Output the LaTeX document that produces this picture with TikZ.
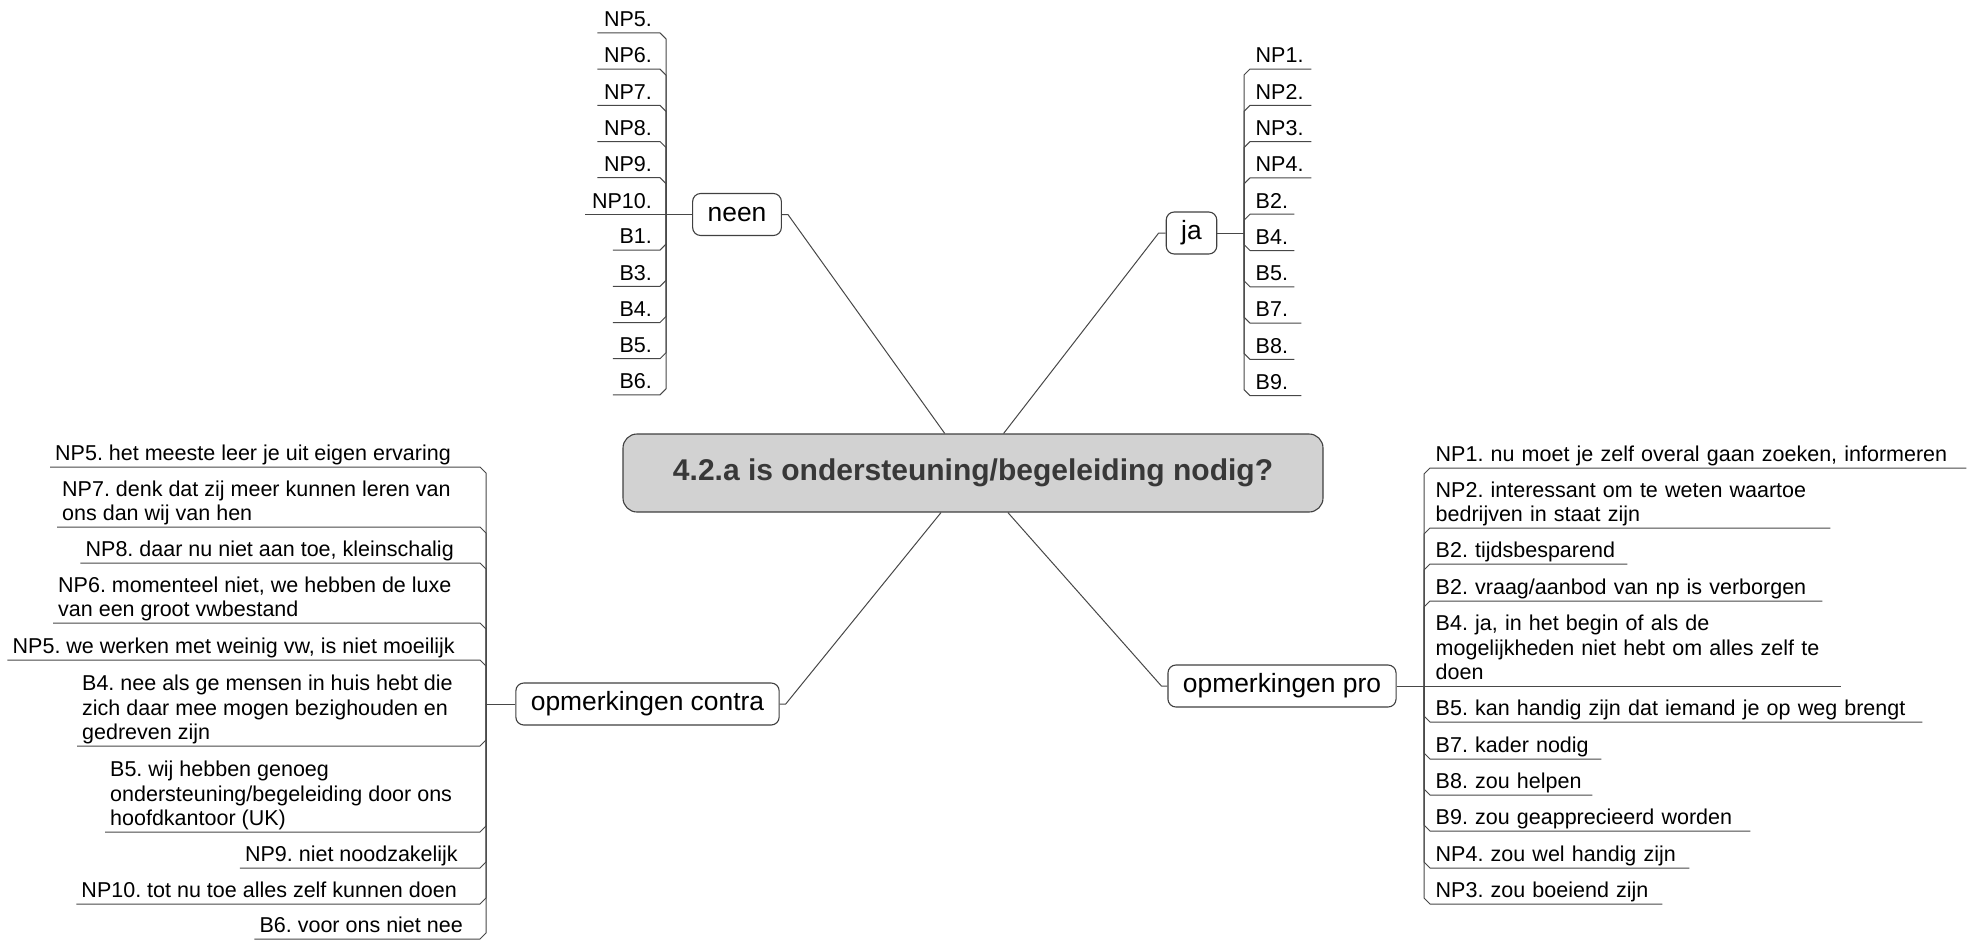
\documentclass[tikz,border=0pt]{standalone}
\usepackage{fontspec}
\setmainfont{Liberation Sans}
\usetikzlibrary{calc}
\frenchspacing
\newcommand\leaffont{\fontsize{21.5pt}{24.8pt}\selectfont}
\newcommand\ldepth{\rule[-6pt]{0pt}{6pt}}
\newcommand\brL[3]{\draw[line] (#1) -- ($(#1 |- #2.south)+(0,#3)$) -- ($(#1 |- #2.south)+(6,0)$) -- (#2.south east);}
\newcommand\brR[3]{\draw[line] (#1) -- ($(#1 |- #2.south)+(0,#3)$) -- ($(#1 |- #2.south)+(-6,0)$) -- (#2.south west);}
\tikzset{
  line/.style={draw=black!72, line width=1pt, line join=round},
  topic/.style={draw=black!75, line width=1.1pt, fill=gray!35, rounded corners=14pt,
    minimum width=700pt, minimum height=78pt, text=black!78,
    font=\bfseries\fontsize{30pt}{34pt}\selectfont},
  branch/.style={draw=black!75, line width=1.1pt, fill=white, rounded corners=8pt,
    inner xsep=15pt, minimum height=42pt, font=\fontsize{26.4pt}{30pt}\selectfont},
  leafL/.style={inner xsep=5.5pt, inner ysep=0pt, anchor=south west, align=left,
    font=\leaffont\frenchspacing, execute at end node=\ldepth},
  leafR/.style={inner xsep=6.5pt, inner ysep=0pt, anchor=south east, align=right,
    font=\leaffont\frenchspacing, execute at end node=\ldepth},
  leafM/.style={inner xsep=5pt, inner ysep=0pt, anchor=south west, align=left,
    font=\leaffont\frenchspacing, execute at end node=\ldepth},
}
\begin{document}
\begin{tikzpicture}[x=1pt,y=-1pt]
\useasboundingbox (0,0) rectangle (1977,940);

% central topic
\node[topic] (central) at (973,473) {4.2.a is ondersteuning/begeleiding nodig?};

% main branches
\node[branch] (neen) at (737,214.5) {neen};
\node[branch] (ja) at (1191.5,233) {ja};
\node[branch] (contra) at (647.5,704) {opmerkingen contra};
\node[branch] (pro) at (1282,686) {opmerkingen pro};

\draw[line] (neen.east) -- ++(6,0) -- (central);
\draw[line] (ja.west) -- ++(-7,0) -- (central);
\draw[line] (contra.east) -- ++(6,0) -- (central);
\draw[line] (pro.west) -- ++(-6,0) -- (central);

% junctions
\coordinate (nJ) at (666,214.5);
\coordinate (jJ) at (1244,233);
\coordinate (cJ) at (486,704);
\coordinate (pJ) at (1424,686);
\draw[line] (neen.west) -- (nJ);
\draw[line] (ja.east) -- (jJ);
\draw[line] (contra.west) -- (cJ);
\draw[line] (pro.east) -- (pJ);

% ---- neen children ----
\node[leafR] (n1) at (658.5,32.9) {NP5.};
\node[leafR] (n2) at (658.5,69.1) {NP6.};
\node[leafR] (n3) at (658.5,105.3) {NP7.};
\node[leafR] (n4) at (658.5,141.5) {NP8.};
\node[leafR] (n5) at (658.5,177.7) {NP9.};
\node[leafR] (n6) at (658.5,214.5) {NP10.};
\node[leafR] (n7) at (658.5,250.1) {B1.};
\node[leafR] (n8) at (658.5,286.3) {B3.};
\node[leafR] (n9) at (658.5,322.5) {B4.};
\node[leafR] (n10) at (658.5,358.7) {B5.};
\node[leafR] (n11) at (658.5,394.9) {B6.};
\brR{nJ}{n1}{6}\brR{nJ}{n2}{6}\brR{nJ}{n3}{6}\brR{nJ}{n4}{6}\brR{nJ}{n5}{6}
\brR{nJ}{n6}{0}
\brR{nJ}{n7}{-6}\brR{nJ}{n8}{-6}\brR{nJ}{n9}{-6}\brR{nJ}{n10}{-6}\brR{nJ}{n11}{-6}

% ---- ja children ----
\node[leafL, text width=50pt] (j1) at (1250,69) {NP1.};
\node[leafL, text width=50pt] (j2) at (1250,105.3) {NP2.};
\node[leafL, text width=50pt] (j3) at (1250,141.6) {NP3.};
\node[leafL, text width=50pt] (j4) at (1250,177.9) {NP4.};
\node[leafL, text width=33pt] (j5) at (1250,214.2) {B2.};
\node[leafL, text width=33pt] (j6) at (1250,250.5) {B4.};
\node[leafL, text width=33pt] (j7) at (1250,286.8) {B5.};
\node[leafL, text width=40pt] (j8) at (1250,323.1) {B7.};
\node[leafL, text width=33pt] (j9) at (1250,359.4) {B8.};
\node[leafL, text width=40pt] (j10) at (1250,395.7) {B9.};
\brL{jJ}{j1}{6}\brL{jJ}{j2}{6}\brL{jJ}{j3}{6}\brL{jJ}{j4}{6}\brL{jJ}{j5}{6}
\brL{jJ}{j6}{-6}\brL{jJ}{j7}{-6}\brL{jJ}{j8}{-6}\brL{jJ}{j9}{-6}\brL{jJ}{j10}{-6}

% ---- contra children ----
\node[leafR, inner xsep=5pt] (c1) at (456,467) {NP5. het meeste leer je uit eigen ervaring};
\node[leafM] (c2) at (57,527) {NP7. denk dat zij meer kunnen leren van\\ons dan wij van hen};
\node[leafR, inner xsep=5pt] (c3) at (459,563) {NP8. daar nu niet aan toe, kleinschalig};
\node[leafM] (c4) at (53,623) {NP6. momenteel niet, we hebben de luxe\\van een groot vwbestand};
\node[leafR, inner xsep=5pt] (c5) at (460,660) {NP5. we werken met weinig vw, is niet moeilijk};
\node[leafM] (c6) at (77,746) {B4. nee als ge mensen in huis hebt die\\zich daar mee mogen bezighouden en\\gedreven zijn};
\node[leafM] (c7) at (105,832) {B5. wij hebben genoeg\\ondersteuning/begeleiding door ons\\hoofdkantoor (UK)};
\node[leafR, inner xsep=5pt] (c8) at (463,868) {NP9. niet noodzakelijk};
\node[leafR, inner xsep=5pt] (c9) at (462,904) {NP10. tot nu toe alles zelf kunnen doen};
\node[leafR, inner xsep=5pt] (c10) at (468,939) {B6. voor ons niet nee};
\brR{cJ}{c1}{6}\brR{cJ}{c2}{6}\brR{cJ}{c3}{6}\brR{cJ}{c4}{6}\brR{cJ}{c5}{6}
\brR{cJ}{c6}{-6}\brR{cJ}{c7}{-6}\brR{cJ}{c8}{-6}\brR{cJ}{c9}{-6}\brR{cJ}{c10}{-6}

% ---- pro children ----
\node[leafL, text width=525pt] (p1) at (1430,468) {NP1. nu moet je zelf overal gaan zoeken, informeren};
\node[leafL, text width=389pt] (p2) at (1430,528) {NP2. interessant om te weten waartoe\\bedrijven in staat zijn};
\node[leafL, text width=186pt] (p3) at (1430,564) {B2. tijdsbesparend};
\node[leafL, text width=381pt] (p4) at (1430,601) {B2. vraag/aanbod van np is verborgen};
\node[leafL, text width=400pt] (p5) at (1430,686) {B4. ja, in het begin of als de\\mogelijkheden niet hebt om alles zelf te\\doen};
\node[leafL, text width=481pt] (p6) at (1430,722) {B5. kan handig zijn dat iemand je op weg brengt};
\node[leafL, text width=160pt] (p7) at (1430,759) {B7. kader nodig};
\node[leafL, text width=151pt] (p8) at (1430,795) {B8. zou helpen};
\node[leafL, text width=309pt] (p9) at (1430,831) {B9. zou geapprecieerd worden};
\node[leafL, text width=248pt] (p10) at (1430,868) {NP4. zou wel handig zijn};
\node[leafL, text width=221pt] (p11) at (1430,904) {NP3. zou boeiend zijn};
\brL{pJ}{p1}{6}\brL{pJ}{p2}{6}\brL{pJ}{p3}{6}\brL{pJ}{p4}{6}
\brL{pJ}{p5}{0}
\brL{pJ}{p6}{-6}\brL{pJ}{p7}{-6}\brL{pJ}{p8}{-6}\brL{pJ}{p9}{-6}\brL{pJ}{p10}{-6}\brL{pJ}{p11}{-6}
\end{tikzpicture}
\end{document}
